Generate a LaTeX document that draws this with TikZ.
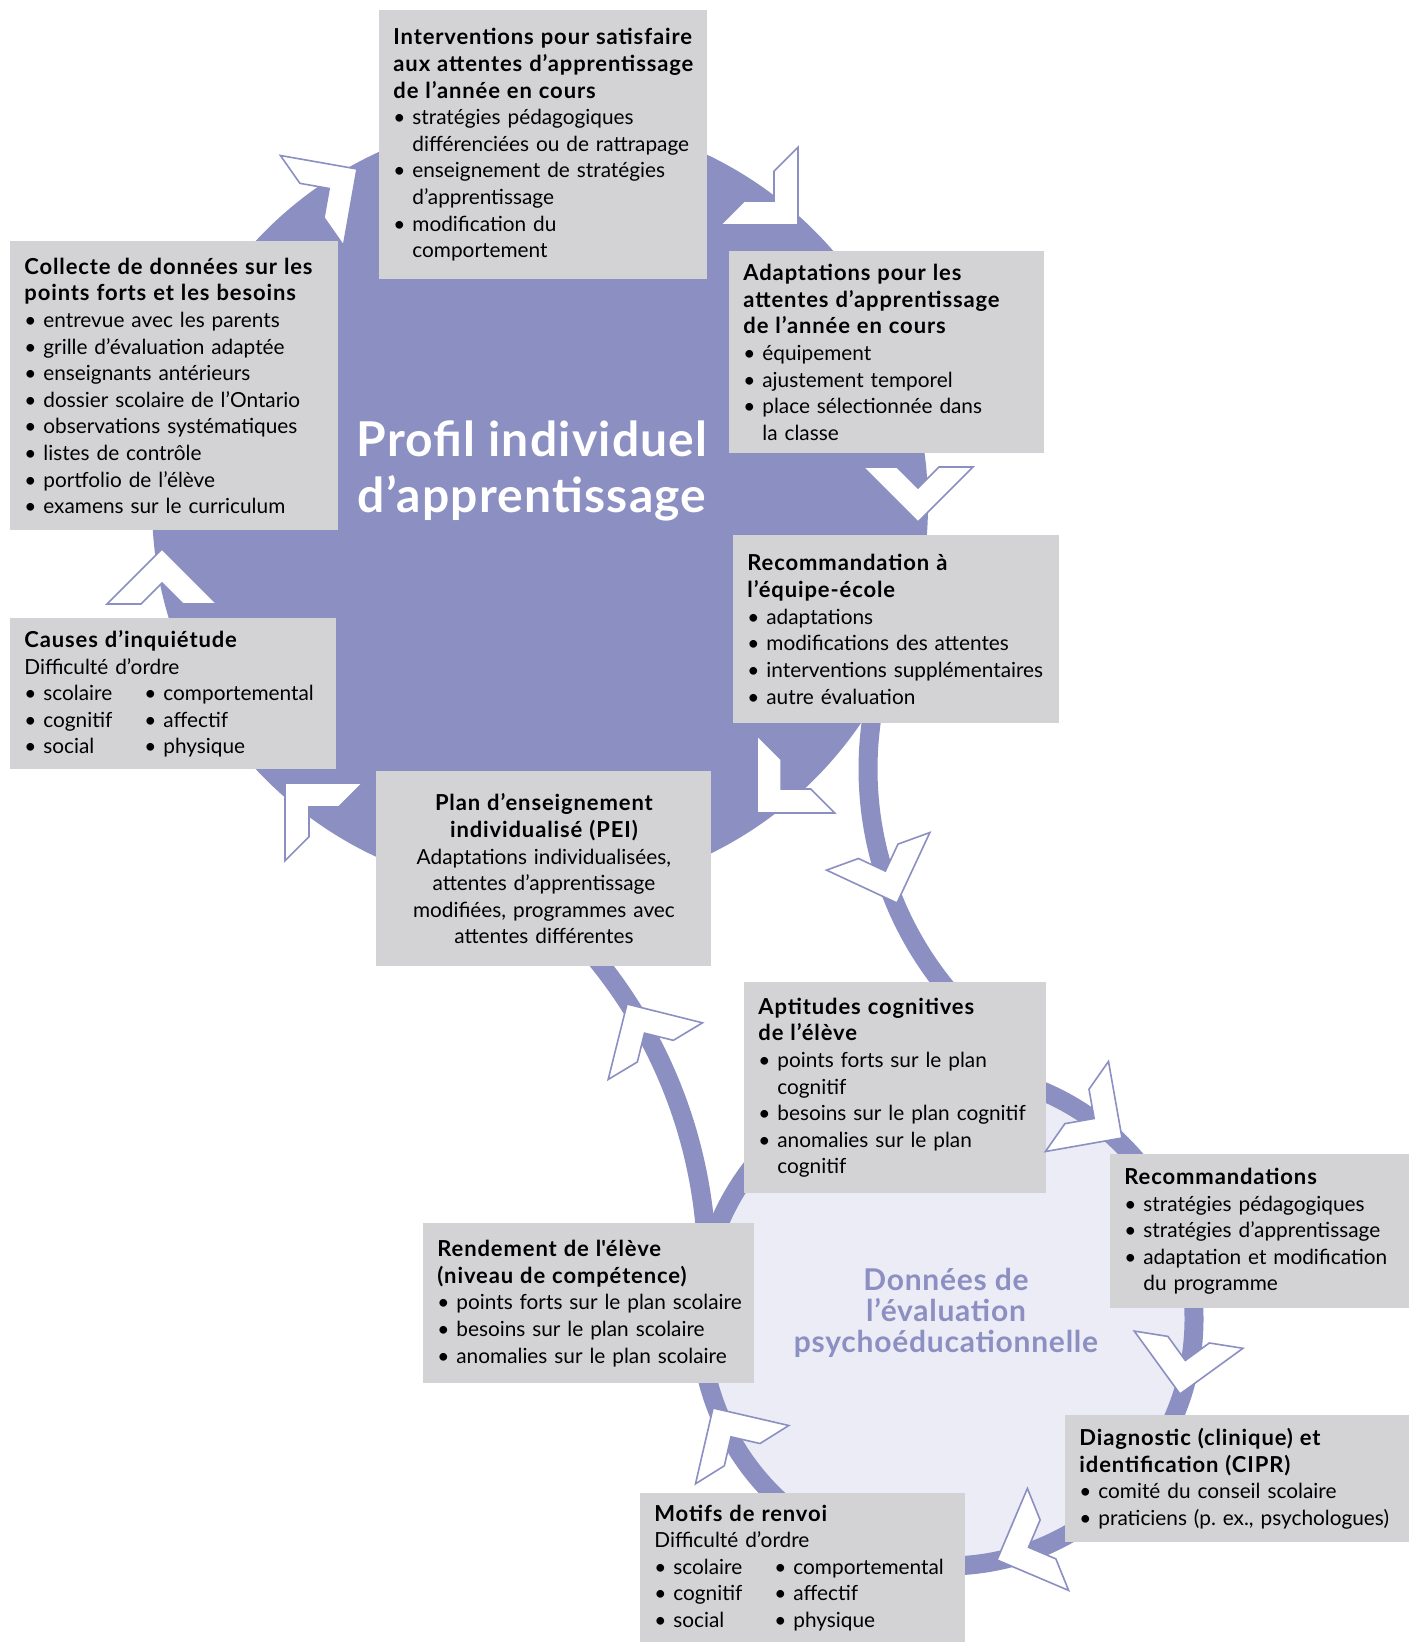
\documentclass[tikz,border=0pt]{standalone}
\usepackage{fontspec}
\setmainfont{Lato}
\newfontfamily\hdfont{Lato}[LetterSpace=4]
\newfontfamily\ttlfont{Lato}[LetterSpace=2.5]
\frenchspacing

\definecolor{ringblue}{RGB}{139,143,193}
\definecolor{boxgray}{RGB}{211,211,213}
\definecolor{lavender}{RGB}{236,236,246}

\newcommand\hd[1]{\mbox{\hdfont\bfseries\fontsize{11}{13.3}\selectfont #1}}
\newcommand\itm[1]{\mbox{\textbullet\ #1}}
\newcommand\cnt[1]{\mbox{\phantom{\textbullet\ }#1}}
\newcommand\col[1]{\makebox[60pt][l]{#1}}

\begin{document}
\begin{tikzpicture}[x=0.5pt,y=-0.5pt,
    box/.style={fill=boxgray, anchor=north west, inner xsep=7pt, inner ysep=0pt,
        align=left, font=\fontsize{10.4}{13.3}\selectfont},
    band/.style={draw=ringblue, line width=9.5pt},
    chevron/.style={draw=ringblue, fill=white, line width=0.8pt, line join=miter}]
    %% Profil individuel / evaluation cycle

    % Chevron: tip at (#1,#2), pointing at angle #3
    \def\chev#1#2#3{%
        \begin{scope}[shift={(#1,#2)},rotate=#3]
            \draw[chevron] (0,0) -- (-55,55) -- (-55,21) -- (-34,0)
            -- (-55,-21) -- (-55,-55) -- cycle;
        \end{scope}}

    \useasboundingbox (0,0) rectangle (1416,1642);

    % Upper disk
    \fill[ringblue] (540,505) circle (388);

    % Lower disk
    \fill[lavender] (947,1319) circle (247);

    % Connecting bands
    \draw[band,variable=\t,domain=125:195,smooth,samples=30]
    plot ({1214+346*cos(\t)},{769+346*sin(\t)});
    \draw[band,variable=\t,domain=-45:0,smooth,samples=30]
    plot ({215+492*cos(\t)},{1270+492*sin(\t)});

    % Lower ring
    \draw[band] (947,1319) circle (247);

    % Boxes, upper cycle
    \node[box, text width=150pt, minimum height=134.5pt] (interventions) at (379,10)
    {\hd{Interventions pour satisfaire}\\
        \hd{aux attentes d’apprentissage}\\
        \hd{de l’année en cours}\\
        \itm{stratégies pédagogiques}\\
        \cnt{différenciées ou de rattrapage}\\
        \itm{enseignement de stratégies}\\
        \cnt{d’apprentissage}\\
        \itm{modification du}\\
        \cnt{comportement}};

    \node[box, text width=143.5pt, minimum height=101pt] (adaptations) at (729,251)
    {\hd{Adaptations pour les}\\
        \hd{attentes d’apprentissage}\\
        \hd{de l’année en cours}\\
        \itm{équipement}\\
        \itm{ajustement temporel}\\
        \itm{place sélectionnée dans}\\
        \cnt{la classe}};

    \node[box, text width=149pt, minimum height=94pt] (recommandation) at (733,535)
    {\hd{Recommandation à}\\
        \hd{l’équipe-école}\\
        \itm{adaptations}\\
        \itm{modifications des attentes}\\
        \itm{interventions supplémentaires}\\
        \itm{autre évaluation}};

    \node[box, align=center, text width=153.5pt, minimum height=97.5pt] (pei) at (376,771)
    {\hd{Plan d’enseignement}\\
        \hd{individualisé (PEI)}\\
        Adaptations individualisées,\\
        attentes d’apprentissage\\
        modifiées, programmes avec\\
        attentes différentes};

    \node[box, text width=149pt, minimum height=75.5pt] (causes) at (10,618)
    {\hd{Causes d’inquiétude}\\
        Difficulté d’ordre\\
        \col{\itm{scolaire}}\itm{comportemental}\\
        \col{\itm{cognitif}}\itm{affectif}\\
        \col{\itm{social}}\itm{physique}};

    \node[box, text width=150pt, minimum height=144.5pt] (collecte) at (10,241)
    {\hd{Collecte de données sur les}\\
        \hd{points forts et les besoins}\\
        \itm{entrevue avec les parents}\\
        \itm{grille d’évaluation adaptée}\\
        \itm{enseignants antérieurs}\\
        \itm{dossier scolaire de l’Ontario}\\
        \itm{observations systématiques}\\
        \itm{listes de contrôle}\\
        \itm{portfolio de l’élève}\\
        \itm{examens sur le curriculum}};

    % Boxes, lower cycle
    \node[box, text width=137pt, minimum height=105.5pt] (aptitudes) at (744,982)
    {\hd{Aptitudes cognitives}\\
        \hd{de l’élève}\\
        \itm{points forts sur le plan}\\
        \cnt{cognitif}\\
        \itm{besoins sur le plan cognitif}\\
        \itm{anomalies sur le plan}\\
        \cnt{cognitif}};

    \node[box, text width=135.5pt, minimum height=77pt] (recommandations) at (1110,1154)
    {\hd{Recommandations}\\
        \itm{stratégies pédagogiques}\\
        \itm{stratégies d’apprentissage}\\
        \itm{adaptation et modification}\\
        \cnt{du programme}};

    \node[box, text width=158pt, minimum height=63.5pt] (diagnostic) at (1065,1415)
    {\hd{Diagnostic (clinique) et}\\
        \hd{identification (CIPR)}\\
        \itm{comité du conseil scolaire}\\
        \itm{praticiens (p. ex., psychologues)}};

    \node[box, text width=148.5pt, minimum height=74.5pt] (motifs) at (640,1493)
    {\hd{Motifs de renvoi}\\
        Difficulté d’ordre\\
        \col{\itm{scolaire}}\itm{comportemental}\\
        \col{\itm{cognitif}}\itm{affectif}\\
        \col{\itm{social}}\itm{physique}};

    \node[box, text width=151.5pt, minimum height=80pt] (rendement) at (423,1223)
    {\hd{Rendement de l\textquotesingle élève}\\
        \hd{(niveau de compétence)}\\
        \itm{points forts sur le plan scolaire}\\
        \itm{besoins sur le plan scolaire}\\
        \itm{anomalies sur le plan scolaire}};

    % Chevrons, upper cycle
    \chev{357}{169}{35}
    \chev{798}{225}{-45}
    \chev{918}{522}{-90}
    \chev{757}{813}{-135}
    \chev{285}{783}{135}
    \chev{162}{549}{90}

    % Chevrons, lower cycle
    \chev{897}{903}{-70}
    \chev{1122}{1138}{-35}
    \chev{1180}{1394}{-99}
    \chev{997}{1560}{-158}
    \chev{713}{1408}{122}
    \chev{627}{1004}{121}

    % Titles
    \node[text=white, align=center, font=\ttlfont\fontsize{24}{27.8}\selectfont\bfseries]
    (profil) at (532,471) {Profil individuel\\d’apprentissage};
    \node[text=ringblue, align=center, font=\ttlfont\fontsize{15}{15.5}\selectfont\bfseries]
    (donnees) at (946,1313) {Données de\\l’évaluation\\psychoéducationnelle};

\end{tikzpicture}
\end{document}
